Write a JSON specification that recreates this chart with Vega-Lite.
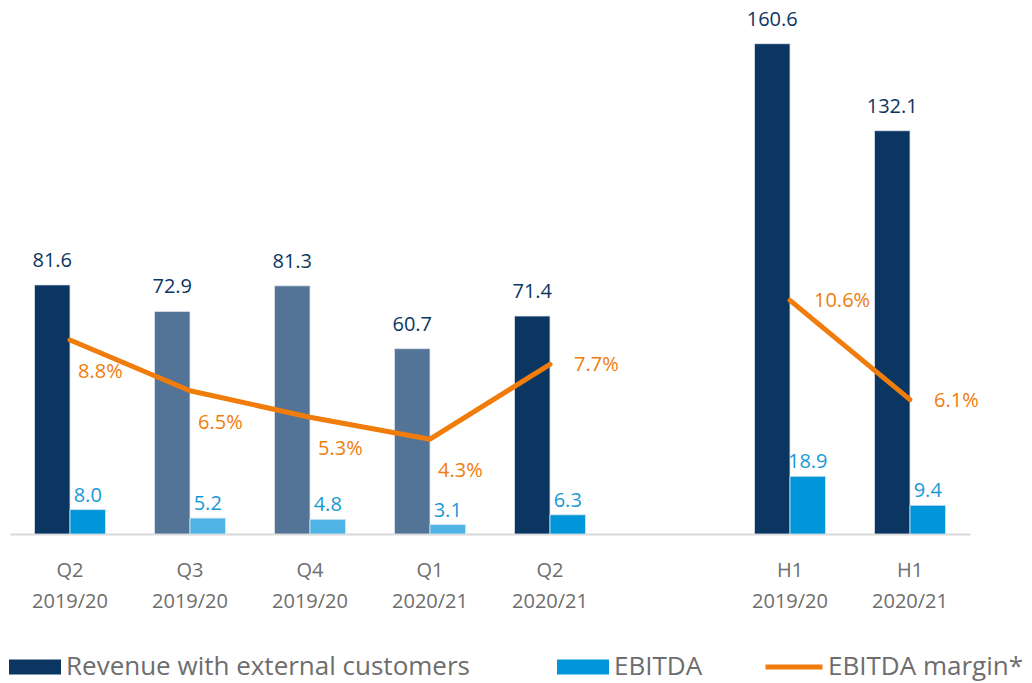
{
  "$schema": "https://vega.github.io/schema/vega-lite/v6.json",
  "width": 960,
  "height": 519,
  "autosize": {"type": "none"},
  "padding": {"left": 10, "top": 15, "right": 62, "bottom": 149},
  "background": "#ffffff",
  "config": {
    "font": "Open Sans",
    "view": {"stroke": null},
    "legend": {"padding": 0}
  },
  "data": {
    "values": [
      {"period": "Q2 2019/20", "revenue": 81.6, "ebitda": 8.0, "margin": 0.088, "group": "quarters", "muted": false},
      {"period": "Q3 2019/20", "revenue": 72.9, "ebitda": 5.2, "margin": 0.065, "group": "quarters", "muted": true},
      {"period": "Q4 2019/20", "revenue": 81.3, "ebitda": 4.8, "margin": 0.053, "group": "quarters", "muted": true},
      {"period": "Q1 2020/21", "revenue": 60.7, "ebitda": 3.1, "margin": 0.043, "group": "quarters", "muted": true},
      {"period": "Q2 2020/21", "revenue": 71.4, "ebitda": 6.3, "margin": 0.077, "group": "quarters", "muted": false},
      {"period": "H1 2019/20", "revenue": 160.6, "ebitda": 18.9, "margin": 0.106, "group": "half", "muted": false},
      {"period": "H1 2020/21", "revenue": 132.1, "ebitda": 9.4, "margin": 0.061, "group": "half", "muted": false}
    ]
  },
  "encoding": {
    "x": {
      "field": "period",
      "type": "nominal",
      "scale": {
        "domain": ["Q2 2019/20", "Q3 2019/20", "Q4 2019/20", "Q1 2020/21", "Q2 2020/21", " ", "H1 2019/20", "H1 2020/21"],
        "paddingInner": 0.408,
        "paddingOuter": 0.204
      },
      "axis": {
        "title": null,
        "labelAngle": 0,
        "labelExpr": "split(datum.label, ' ')",
        "labelFontSize": 20,
        "labelColor": "#6d6d6d",
        "labelLineHeight": 31,
        "labelPadding": 26,
        "ticks": false,
        "tickSize": 0,
        "domainColor": "#d9d9d9",
        "domainWidth": 2,
        "grid": false
      }
    }
  },
  "layer": [
    {
      "transform": [{"fold": ["revenue", "ebitda"], "as": ["key", "value"]}],
      "mark": {"type": "bar", "stroke": "#dfe6ee", "strokeWidth": 0.8},
      "encoding": {
        "xOffset": {"field": "key", "type": "nominal", "scale": {"domain": ["revenue", "ebitda"], "paddingInner": 0, "paddingOuter": 0}},
        "y": {"field": "value", "type": "quantitative", "scale": {"domain": [0, 170], "nice": false}, "axis": null},
        "color": {
          "condition": [
            {"test": "datum.muted && datum.key == 'revenue'", "value": "#537496"},
            {"test": "datum.muted && datum.key == 'ebitda'", "value": "#4fb4e5"}
          ],
          "field": "key",
          "type": "nominal",
          "scale": {"domain": ["revenue", "ebitda"], "range": ["#0b3662", "#0096d9"]},
          "legend": {
            "orient": "none",
            "legendX": -1,
            "legendY": 626,
            "direction": "horizontal",
            "title": null,
            "labelExpr": "datum.label == 'revenue' ? 'Revenue with external customers' : 'EBITDA'",
            "symbolType": "M-1,-0.29H1V0.29H-1Z",
            "symbolSize": 2704,
            "symbolStrokeWidth": 0,
            "symbolOpacity": 1,
            "labelFontSize": 26,
            "labelColor": "#6d6d6d",
            "labelOffset": 5,
            "labelLimit": 600,
            "columnPadding": 87
          }
        }
      }
    },
    {
      "mark": {"type": "text", "dx": -17.75, "dy": -18, "baseline": "alphabetic", "fontSize": 20, "color": "#0b3662"},
      "encoding": {
        "y": {"field": "revenue", "type": "quantitative", "scale": {"domain": [0, 170], "nice": false}, "axis": null},
        "text": {"field": "revenue", "type": "quantitative", "format": ".1f"}
      }
    },
    {
      "mark": {"type": "text", "dx": 17.75, "dy": -8, "baseline": "alphabetic", "fontSize": 20, "color": "#1799d6"},
      "encoding": {
        "y": {"field": "ebitda", "type": "quantitative", "scale": {"domain": [0, 170], "nice": false}, "axis": null},
        "text": {"field": "ebitda", "type": "quantitative", "format": ".1f"}
      }
    },
    {
      "mark": {"type": "line", "strokeWidth": 5, "strokeCap": "round", "strokeJoin": "round"},
      "encoding": {
        "y": {"field": "margin", "type": "quantitative", "scale": {"domain": [0, 0.2355], "nice": false}, "axis": null},
        "detail": {"field": "group"},
        "stroke": {
          "datum": "EBITDA margin*",
          "scale": {"range": ["#f07d0b"]},
          "legend": {
            "orient": "none",
            "legendX": 753,
            "legendY": 621,
            "title": null,
            "symbolType": "stroke",
            "symbolSize": 3249,
            "symbolStrokeWidth": 5,
            "labelFontSize": 26,
            "labelColor": "#6d6d6d",
            "labelOffset": 3,
            "labelLimit": 600
          }
        }
      }
    },
    {
      "transform": [{"filter": "indexof(['Q2 2019/20','Q3 2019/20','Q4 2019/20','Q1 2020/21'], datum.period) >= 0"}],
      "mark": {"type": "text", "align": "left", "dx": 8, "dy": 38, "baseline": "alphabetic", "fontSize": 20, "color": "#f07d0b"},
      "encoding": {
        "y": {"field": "margin", "type": "quantitative", "scale": {"domain": [0, 0.2355], "nice": false}, "axis": null},
        "text": {"field": "margin", "type": "quantitative", "format": ".1%"}
      }
    },
    {
      "transform": [{"filter": "indexof(['Q2 2019/20','Q3 2019/20','Q4 2019/20','Q1 2020/21'], datum.period) < 0"}],
      "mark": {"type": "text", "align": "left", "dx": 24, "dy": 1, "baseline": "middle", "fontSize": 20, "color": "#f07d0b"},
      "encoding": {
        "y": {"field": "margin", "type": "quantitative", "scale": {"domain": [0, 0.2355], "nice": false}, "axis": null},
        "text": {"field": "margin", "type": "quantitative", "format": ".1%"}
      }
    }
  ],
  "resolve": {"scale": {"y": "independent"}}
}
